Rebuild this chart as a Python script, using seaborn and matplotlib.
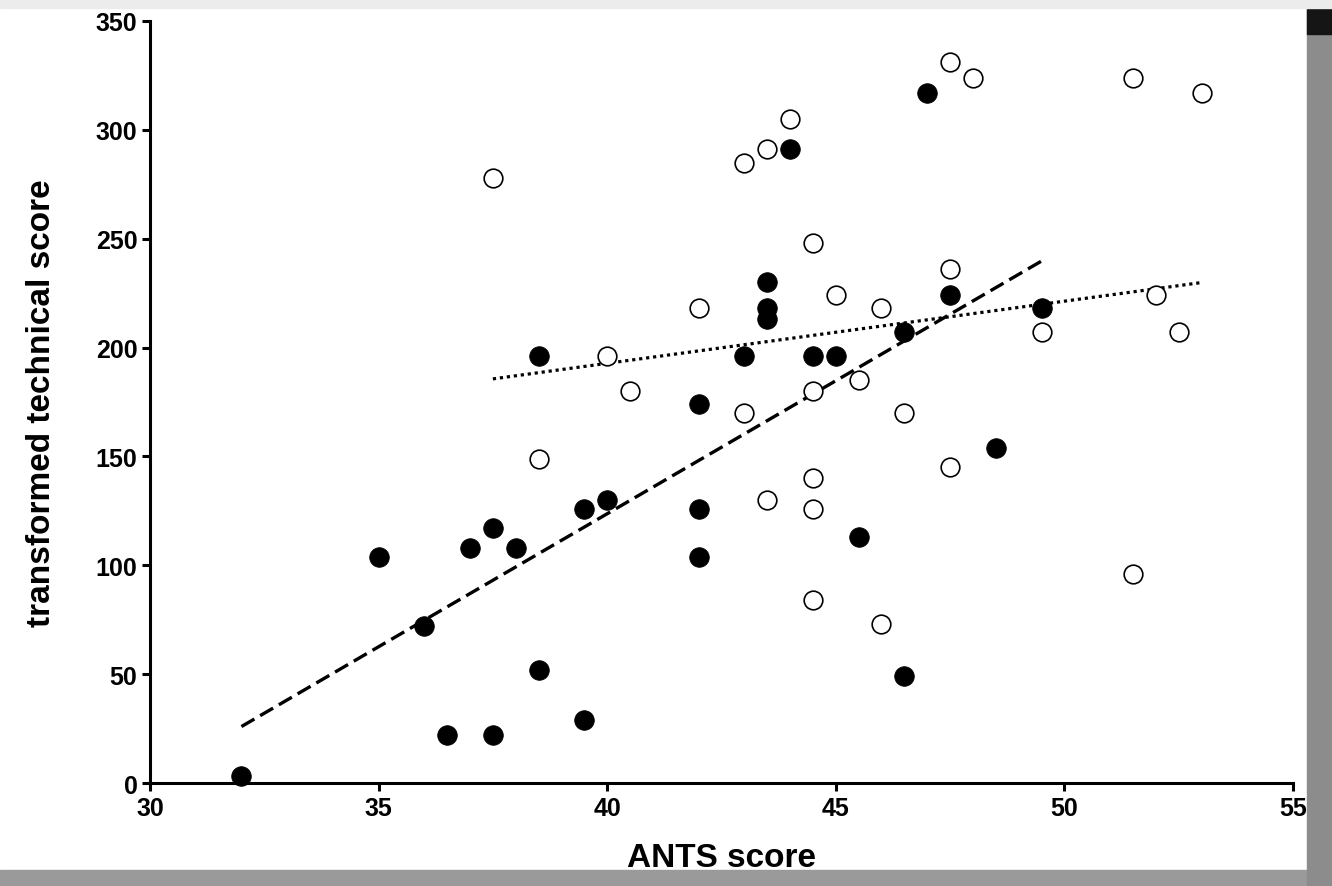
import numpy as np
import pandas as pd
import matplotlib
matplotlib.use("Agg")
import matplotlib.pyplot as plt
from matplotlib.patches import Rectangle
import seaborn as sns

# filled circles
filled_x = [32, 35, 36, 36.5, 37, 37.5, 37.5, 38, 38.5, 38.5, 39.5, 39.5, 40,
            42, 42, 42, 43, 43.5, 43.5, 43.5, 44, 44.5, 45, 45.5, 46.5, 46.5,
            47, 47.5, 48.5, 49.5]
filled_y = [3, 104, 72, 22, 108, 117, 22, 108, 196, 52, 126, 29, 130,
            174, 126, 104, 196, 230, 218, 213, 291, 196, 196, 113, 207, 49,
            317, 224, 154, 218]

# open circles
open_x = [37.5, 38.5, 40, 40.5, 42, 43, 43, 43.5, 43.5, 44, 44.5, 44.5, 44.5,
          44.5, 44.5, 45, 45.5, 46, 46, 46.5, 47.5, 47.5, 47.5, 48, 49.5,
          51.5, 51.5, 52, 52.5, 53]
open_y = [278, 149, 196, 180, 218, 285, 170, 291, 130, 305, 248, 180, 140,
          126, 84, 224, 185, 218, 73, 170, 331, 236, 145, 324, 207,
          324, 96, 224, 207, 317]

x_ticks = [30, 35, 40, 45, 50, 55]
y_ticks = [0, 50, 100, 150, 200, 250, 300, 350]

filled = pd.DataFrame({"ants": filled_x, "tech": filled_y})
opened = pd.DataFrame({"ants": open_x, "tech": open_y})

sns.set_style("ticks")
plt.rcParams["font.family"] = ["Liberation Sans", "DejaVu Sans"]
plt.rcParams["font.weight"] = "bold"
plt.rcParams["text.color"] = "black"
plt.rcParams["axes.labelcolor"] = "black"
plt.rcParams["xtick.color"] = "black"
plt.rcParams["ytick.color"] = "black"

fig = plt.figure(figsize=(13.32, 8.87), dpi=100)
ax = fig.add_axes([0.1126, 0.1161, 0.8581, 0.8591])

sns.scatterplot(data=filled, x="ants", y="tech", ax=ax, s=200, marker="o",
                color="black", edgecolor="black", linewidth=0.5,
                clip_on=False, zorder=3)
sns.scatterplot(data=opened, x="ants", y="tech", ax=ax, s=180, marker="o",
                facecolor="white", edgecolor="black", linewidth=1.2,
                clip_on=False, zorder=3)

# regression lines
sns.regplot(data=filled, x="ants", y="tech", ax=ax, scatter=False, ci=None,
            truncate=True,
            line_kws=dict(color="black", lw=2.4, linestyle=(0, (4.5, 2))))
sns.regplot(data=opened, x="ants", y="tech", ax=ax, scatter=False, ci=None,
            truncate=True,
            line_kws=dict(color="black", lw=2.3, linestyle=(0, (1, 1.2))))

ax.set_xlim(30, 55)
ax.set_ylim(0, 350)
ax.set_xticks(x_ticks)
ax.set_yticks(y_ticks)
ax.tick_params(axis="both", width=2.2, length=6, labelsize=18, pad=3,
               color="black", labelcolor="black")
for lab in ax.get_xticklabels() + ax.get_yticklabels():
    lab.set_fontweight("bold")

for side in ["top", "right"]:
    ax.spines[side].set_visible(False)
for side in ["left", "bottom"]:
    ax.spines[side].set_linewidth(2.2)
    ax.spines[side].set_color("black")

ax.set_xlabel("ANTS score", fontsize=24, fontweight="bold", labelpad=16,
              color="black")
ax.set_ylabel("transformed technical score", fontsize=24, fontweight="bold",
              labelpad=28, color="black")

# scan border around the picture
fig.patches.append(Rectangle((0, 0), 1, 16 / 887, transform=fig.transFigure,
                             color="#9a9a9a", zorder=10))
fig.patches.append(Rectangle((1307 / 1332, 0), 25 / 1332, 1,
                             transform=fig.transFigure, color="#8c8c8c",
                             zorder=10))
fig.patches.append(Rectangle((1307 / 1332, 852 / 887), 25 / 1332, 25 / 887,
                             transform=fig.transFigure, color="#151515",
                             zorder=11))
fig.patches.append(Rectangle((0, 878 / 887), 1, 9 / 887,
                             transform=fig.transFigure, color="#ececec",
                             zorder=12))

fig.savefig("out.png", dpi=100)
